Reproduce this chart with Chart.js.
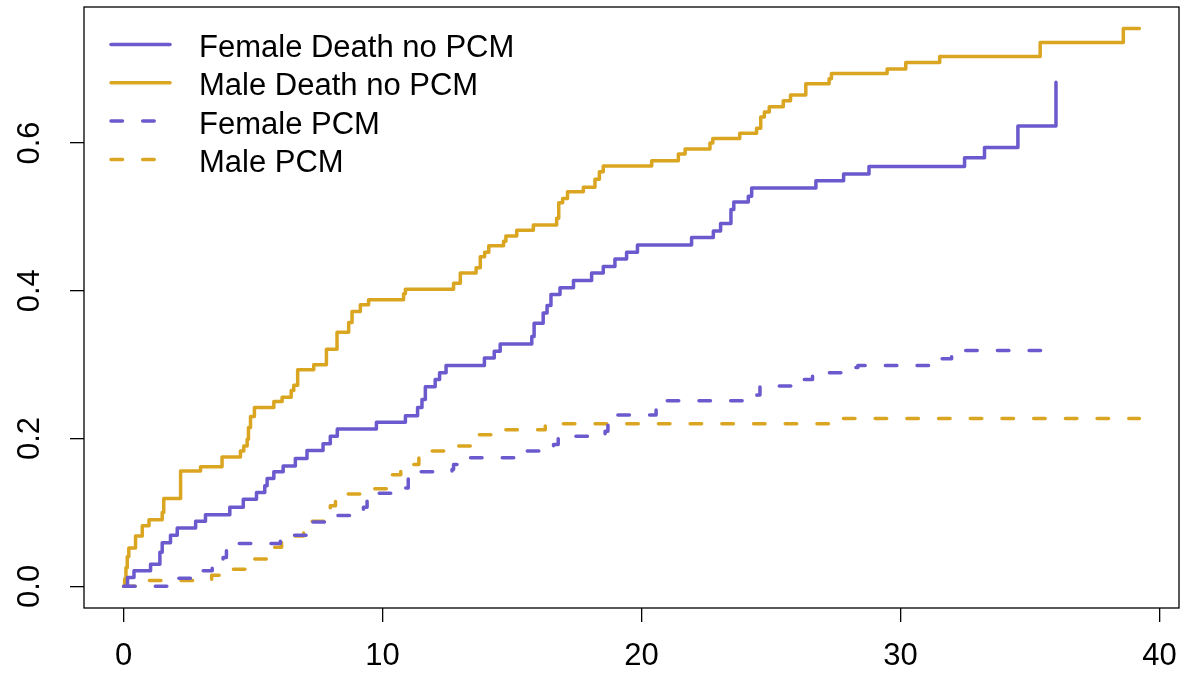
<!DOCTYPE html>
<html>
<head>
<meta charset="utf-8">
<script src="https://cdn.jsdelivr.net/npm/chart.js@4.4.1/dist/chart.umd.min.js"></script>
<style>
  html, body { margin: 0; padding: 0; background: #fff; }
  #wrap { width: 1183px; height: 683px; }
</style>
</head>
<body>
<div id="wrap"><canvas id="cif" width="1183" height="683"></canvas></div>
<script>
// Cumulative incidence step curves (time, estimate)
const femaleDeathX = [0, 0.15, 0.4, 1.04, 1.4, 1.49, 1.81, 2.07, 2.78, 3.16, 4.1, 4.62, 5.13, 5.45, 5.54, 5.8, 6.16, 6.63, 7.08, 7.7, 7.98, 8.25, 9.76, 10.88, 11.35, 11.52, 11.65, 12.03, 12.2, 12.45, 13.93, 14.31, 14.54, 15.76, 15.85, 16.2, 16.35, 16.5, 16.85, 17.37, 18.07, 18.52, 18.97, 19.42, 19.84, 21.93, 22.77, 23.05, 23.45, 23.56, 24.12, 24.25, 26.73, 27.8, 28.78, 32.47, 33.24, 34.53, 36.0];
const femaleDeathY = [0, 0.012, 0.021, 0.03, 0.046, 0.059, 0.069, 0.079, 0.088, 0.097, 0.107, 0.118, 0.127, 0.136, 0.146, 0.155, 0.163, 0.173, 0.184, 0.193, 0.203, 0.213, 0.222, 0.231, 0.242, 0.253, 0.27, 0.28, 0.289, 0.299, 0.309, 0.318, 0.328, 0.338, 0.356, 0.37, 0.38, 0.395, 0.404, 0.414, 0.424, 0.433, 0.443, 0.452, 0.462, 0.472, 0.481, 0.491, 0.51, 0.52, 0.528, 0.539, 0.549, 0.558, 0.568, 0.58, 0.594, 0.623, 0.682];

const maleDeathX = [0, 0.04, 0.09, 0.14, 0.2, 0.46, 0.72, 0.98, 1.49, 1.55, 2.2, 2.97, 3.8, 4.51, 4.64, 4.77, 4.82, 4.9, 5.05, 5.8, 6.12, 6.47, 6.57, 6.72, 7.34, 7.83, 8.24, 8.69, 8.82, 9.14, 9.46, 10.81, 10.88, 12.74, 13.0, 13.61, 13.77, 13.94, 14.1, 14.67, 14.76, 15.18, 15.82, 16.72, 16.8, 16.95, 17.14, 17.75, 18.2, 18.37, 18.52, 20.39, 21.42, 21.68, 22.64, 22.75, 23.79, 24.44, 24.6, 24.74, 24.93, 25.47, 25.75, 26.34, 27.24, 27.33, 29.48, 30.2, 31.51, 35.39, 38.6, 39.22];
const maleDeathY = [0, 0.01, 0.025, 0.04, 0.052, 0.068, 0.082, 0.09, 0.1, 0.119, 0.156, 0.162, 0.175, 0.183, 0.19, 0.199, 0.215, 0.23, 0.242, 0.25, 0.256, 0.265, 0.272, 0.293, 0.3, 0.321, 0.344, 0.357, 0.372, 0.381, 0.388, 0.396, 0.402, 0.41, 0.424, 0.431, 0.446, 0.452, 0.461, 0.467, 0.474, 0.482, 0.489, 0.498, 0.519, 0.525, 0.534, 0.54, 0.551, 0.561, 0.569, 0.576, 0.585, 0.592, 0.6, 0.606, 0.613, 0.62, 0.635, 0.642, 0.649, 0.657, 0.665, 0.68, 0.687, 0.694, 0.7, 0.709, 0.717, 0.736, 0.755, 0.755];

const femalePcmX = [0, 1.93, 2.9, 3.42, 3.84, 3.97, 4.2, 6.05, 6.44, 7.25, 8.06, 9.26, 9.4, 9.8, 10.68, 10.99, 11.3, 12.68, 12.74, 13.2, 15.4, 16.6, 16.78, 18.59, 18.7, 18.94, 20.56, 20.8, 24.45, 24.57, 26.1, 26.6, 28.25, 28.35, 31.08, 31.4, 31.97, 32.3, 36.0];
const femalePcmY = [0, 0.011, 0.021, 0.028, 0.039, 0.05, 0.058, 0.063, 0.069, 0.087, 0.096, 0.107, 0.118, 0.126, 0.133, 0.146, 0.155, 0.158, 0.165, 0.174, 0.183, 0.192, 0.203, 0.21, 0.221, 0.232, 0.241, 0.251, 0.259, 0.271, 0.28, 0.289, 0.296, 0.299, 0.302, 0.308, 0.314, 0.319, 0.319];

const malePcmX = [0, 0.77, 3.4, 4.0, 4.94, 5.8, 6.1, 6.44, 6.95, 7.17, 7.98, 8.18, 8.4, 9.5, 10.37, 10.7, 11.15, 11.4, 11.76, 12.7, 13.6, 14.55, 16.28, 27.6, 39.22];
const malePcmY = [0, 0.008, 0.015, 0.023, 0.037, 0.053, 0.059, 0.068, 0.074, 0.088, 0.109, 0.12, 0.125, 0.132, 0.151, 0.158, 0.165, 0.174, 0.183, 0.19, 0.205, 0.212, 0.22, 0.227, 0.227];

const seriesLabels = ['Female Death no PCM', 'Male Death no PCM', 'Female PCM', 'Male PCM'];
const xTicks = [0, 10, 20, 30, 40];
const yTicks = [0, 0.2, 0.4, 0.6];

const PURPLE = '#6A5ACD';
const GOLD = '#DAA520';
const FONT = '"Liberation Sans", Arial, Helvetica, sans-serif';
const LINE_W = 3.5;
const DASH = [11.5, 20.2];

const toPoints = (xs, ys) => xs.map((x, i) => ({ x, y: ys[i] }));

function stepSeries(label, xs, ys, color, dashed) {
  return {
    label,
    data: toPoints(xs, ys),
    borderColor: color,
    borderWidth: LINE_W,
    borderDash: dashed ? DASH : [],
    borderCapStyle: 'round',
    borderJoinStyle: 'round',
    stepped: 'before',
    pointRadius: 0,
    fill: false
  };
}

// box around the plot region plus the legend in its top-left corner
const frameAndLegend = {
  id: 'frameAndLegend',
  afterDraw(chart) {
    const { ctx, chartArea: a } = chart;
    ctx.save();
    ctx.strokeStyle = '#000';
    ctx.lineWidth = 1.3;
    ctx.setLineDash([]);
    ctx.strokeRect(a.left, a.top, a.right - a.left, a.bottom - a.top);

    ctx.font = '31px ' + FONT;
    ctx.textBaseline = 'alphabetic';
    chart.data.datasets.forEach((ds, i) => {
      const y = a.top + 37.5 + i * 38.3;
      ctx.beginPath();
      ctx.setLineDash(ds.borderDash);
      ctx.lineCap = 'round';
      ctx.strokeStyle = ds.borderColor;
      ctx.lineWidth = ds.borderWidth;
      ctx.moveTo(a.left + 27, y);
      ctx.lineTo(a.left + 86, y);
      ctx.stroke();
      ctx.setLineDash([]);
      ctx.fillStyle = '#000';
      ctx.fillText(ds.label, a.left + 115, y + 12.5);
    });
    ctx.restore();
  }
};

const tickGrid = {
  drawOnChartArea: false,
  drawTicks: true,
  tickLength: 14,
  tickColor: '#000',
  lineWidth: 1.3
};

// fixed axis sizes, and no extra room reserved for overhanging labels
function fixSize(prop, size) {
  return s => {
    s[prop] = size;
    s.paddingTop = 0;
    s.paddingBottom = 0;
    s.paddingLeft = 0;
    s.paddingRight = 0;
  };
}

new Chart(document.getElementById('cif'), {
  type: 'line',
  data: {
    datasets: [
      stepSeries(seriesLabels[0], femaleDeathX, femaleDeathY, PURPLE, false),
      stepSeries(seriesLabels[1], maleDeathX, maleDeathY, GOLD, false),
      stepSeries(seriesLabels[2], femalePcmX, femalePcmY, PURPLE, true),
      stepSeries(seriesLabels[3], malePcmX, malePcmY, GOLD, true)
    ]
  },
  options: {
    responsive: false,
    animation: false,
    devicePixelRatio: 1,
    layout: { padding: { top: 7, right: 4, left: 0, bottom: 0 } },
    plugins: {
      legend: { display: false },
      tooltip: { enabled: false }
    },
    scales: {
      x: {
        type: 'linear',
        min: -1.53,
        max: 40.75,
        afterBuildTicks: s => { s.ticks = xTicks.map(v => ({ value: v })); },
        afterFit: fixSize('height', 75),
        grid: tickGrid,
        border: { display: false },
        ticks: {
          autoSkip: false,
          maxRotation: 0,
          color: '#000',
          padding: 16,
          font: { size: 31, family: FONT },
          callback: v => String(v)
        }
      },
      y: {
        type: 'linear',
        min: -0.0293,
        max: 0.784,
        afterBuildTicks: s => { s.ticks = yTicks.map(v => ({ value: v })); },
        afterFit: fixSize('width', 84),
        grid: tickGrid,
        border: { display: false },
        ticks: {
          autoSkip: false,
          minRotation: 90,
          maxRotation: 90,
          crossAlign: 'center',
          color: '#000',
          padding: 18,
          font: { size: 31, family: FONT },
          callback: v => v.toFixed(1)
        }
      }
    }
  },
  plugins: [frameAndLegend]
});
</script>
</body>
</html>
